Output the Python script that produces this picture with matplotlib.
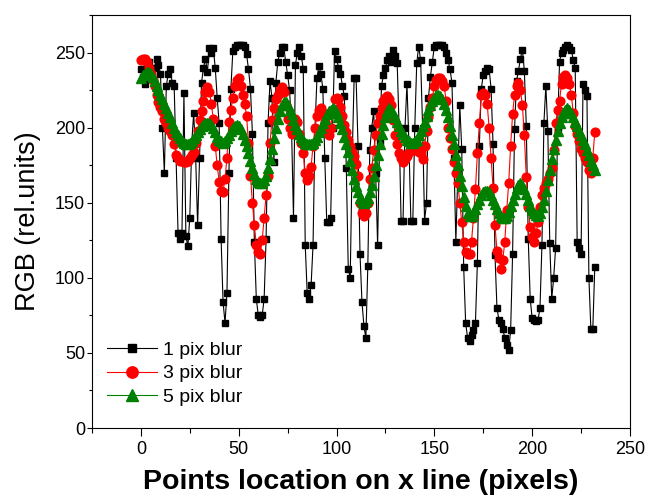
import matplotlib
matplotlib.use("Agg")
import matplotlib.pyplot as plt
from matplotlib.ticker import MultipleLocator

plt.rcParams['font.family'] = ['Liberation Sans', 'DejaVu Sans']

x = list(range(233))

blur1 = [239,234,229,240,244,238,232,240,246,242,
         236,200,170,228,236,239,230,228,180,130,
         126,130,223,128,121,140,190,210,180,135,
         180,230,240,246,237,253,250,253,240,220,
         203,126,84,70,90,170,226,251,254,255,
         255,255,255,254,249,239,226,196,124,86,
         75,74,75,86,126,203,231,220,177,230,
         244,250,254,254,244,235,225,200,140,242,
         250,254,248,239,122,90,86,95,122,200,
         233,241,236,226,180,137,137,140,200,251,
         246,240,236,228,221,173,106,100,180,233,
         233,188,116,84,68,60,108,185,200,211,
         170,122,190,228,235,240,245,248,244,252,
         248,243,200,138,138,200,229,190,138,138,
         200,243,254,245,200,138,150,220,234,244,
         254,255,255,255,255,254,250,245,239,230,
         180,124,170,215,186,107,70,60,58,62,
         65,70,110,188,226,235,238,240,239,226,
         189,115,80,72,70,66,60,55,52,65,
         116,199,231,238,246,252,238,201,126,86,
         73,72,71,72,80,122,203,228,198,123,
         86,100,120,200,244,250,252,254,255,254,
         252,245,240,124,120,116,229,225,221,100,
         66,66,107]

blur3 = [245,246,246,244,240,236,232,228,222,217,
         214,211,206,203,200,198,195,189,182,180,
         178,178,177,177,178,180,182,184,190,198,
         205,211,218,224,227,224,216,206,188,175,
         164,158,157,166,180,204,212,220,228,232,
         233,228,222,216,208,190,168,150,135,122,
         117,116,125,140,155,168,190,205,213,219,
         222,225,227,224,215,206,200,196,200,206,
         204,196,190,183,170,165,168,174,188,200,
         208,212,213,210,204,199,195,200,210,219,
         220,219,214,208,202,197,192,188,184,181,
         176,168,150,143,141,143,150,166,173,185,
         195,203,208,213,218,220,221,219,215,205,
         195,189,183,180,177,179,181,184,185,185,
         185,185,184,183,179,188,198,207,214,220,
         228,232,233,233,231,228,218,200,193,186,
         177,170,163,150,137,124,117,116,116,124,
         140,159,183,203,222,223,222,216,200,180,
         160,135,118,113,106,112,124,145,163,188,
         209,222,228,230,225,215,195,167,147,134,
         127,124,130,137,147,155,160,163,166,170,
         173,185,203,212,218,229,234,235,233,229,
         222,210,201,196,191,186,183,180,177,172,
         170,180,197]

blur5 = [233,235,236,237,237,236,234,231,228,225,
         222,219,216,213,210,207,203,200,197,195,
         193,191,190,189,189,190,191,193,195,197,
         199,201,202,203,203,203,202,200,197,194,
         192,191,190,191,193,195,198,200,201,202,
         201,199,196,192,188,183,178,173,169,166,
         164,163,163,165,168,173,179,186,193,200,
         206,211,215,217,217,215,212,209,205,202,
         199,196,194,192,190,189,189,189,190,192,
         194,197,200,203,206,209,211,212,213,212,
         210,207,203,199,194,189,184,178,172,166,
         161,157,153,151,150,151,153,157,162,168,
         175,182,189,196,202,207,211,213,212,210,
         207,204,201,198,196,194,192,191,190,190,
         191,192,195,198,201,204,208,212,215,218,
         220,222,222,221,219,216,212,207,201,195,
         189,182,175,168,161,154,148,143,141,141,
         143,146,149,152,155,157,158,158,157,155,
         152,149,146,143,141,140,140,141,144,148,
         152,156,160,162,163,162,159,156,152,148,
         145,143,142,141,143,147,152,158,165,172,
         179,186,192,198,203,207,210,212,213,212,
         210,207,204,201,198,195,192,189,185,182,
         178,175,172]

labels = ['1 pix blur', '3 pix blur', '5 pix blur']

fig = plt.figure(figsize=(6.5, 4.97), dpi=100)
ax = fig.add_axes([0.1415, 0.1388, 0.8277, 0.831])

ax.plot(x, blur1, color='black', lw=0.8, marker='s', ms=4.8,
        mec='black', mfc='black', label=labels[0], zorder=2)
ax.plot(x, blur3, color='red', lw=0.8, marker='o', ms=6.3,
        mec='red', mfc='red', label=labels[1], zorder=3)
ax.plot(x, blur5, color='green', lw=0.8, marker='^', ms=7,
        mec='green', mfc='green', label=labels[2], zorder=4)

ax.set_xlim(-25, 250)
ax.set_ylim(0, 275)
ax.xaxis.set_major_locator(MultipleLocator(50))
ax.xaxis.set_minor_locator(MultipleLocator(25))
ax.yaxis.set_major_locator(MultipleLocator(50))
ax.yaxis.set_minor_locator(MultipleLocator(25))
ax.tick_params(axis='x', which='major', direction='out', length=6, width=0.8,
               labelsize=13, pad=3)
ax.tick_params(axis='x', which='minor', direction='out', length=3.5, width=0.8)
ax.tick_params(axis='y', which='major', direction='out', length=3.5, width=0.8,
               labelsize=13, pad=1.5)
ax.tick_params(axis='y', which='minor', direction='out', length=2, width=0.8)
for s in ax.spines.values():
    s.set_linewidth(0.8)

ax.set_xlabel('Points location on x line (pixels)', fontsize=20.5,
              fontweight='bold', labelpad=8)
ax.set_ylabel('RGB (rel.units)', fontsize=19.5, labelpad=10)

leg = ax.legend(loc='lower left', frameon=False, fontsize=14, handlelength=2.6,
                handletextpad=0.3, labelspacing=0.3, borderaxespad=0.0,
                markerscale=1.3, bbox_to_anchor=(0.013, 0.035))

fig.savefig('out.png', dpi=100)
